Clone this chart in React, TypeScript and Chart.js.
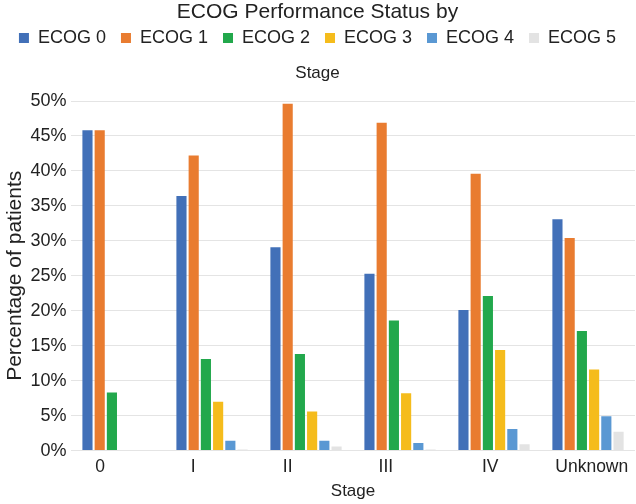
import React, { useEffect, useRef } from "react";
import { Chart, registerables } from "chart.js";

Chart.register(...registerables);

const stages = ["0", "I", "II", "III", "IV", "Unknown"];
const seriesNames = ["ECOG 0", "ECOG 1", "ECOG 2", "ECOG 3", "ECOG 4", "ECOG 5"];
const ecog0 = [45.8, 36.4, 29.1, 25.3, 20.1, 33.1];
const ecog1 = [45.8, 42.2, 49.6, 46.9, 39.6, 30.4];
const ecog2 = [8.3, 13.1, 13.8, 18.6, 22.1, 17.1];
const ecog3 = [0, 7.0, 5.6, 8.2, 14.4, 11.6];
const ecog4 = [0, 1.4, 1.4, 1.1, 3.1, 4.9];
const ecog5 = [0, 0.15, 0.6, 0.15, 0.9, 2.7];
const colors = ["#4270B8", "#E97C30", "#22A84C", "#F5BC1C", "#5A98D3", "#E3E3E3"];
const yTicks = [0, 5, 10, 15, 20, 25, 30, 35, 40, 45, 50];
// label position (in category units) for each stage label
const labelPositions = [-0.19, 0.8, 1.805, 2.85, 3.96, 5.04];

const FONT = "'Liberation Sans', Arial, Helvetica, sans-serif";

export default function App() {
  const ref = useRef<HTMLCanvasElement>(null);
  useEffect(() => {
    document.body.style.margin = "0";
    const series = [ecog0, ecog1, ecog2, ecog3, ecog4, ecog5];
    const chart = new Chart(ref.current!, {
      type: "bar",
      data: {
        labels: stages,
        datasets: series.map((d, i) => ({
          label: seriesNames[i],
          data: d,
          backgroundColor: colors[i],
          borderWidth: 0,
          categoryPercentage: 0.78,
          barPercentage: 0.83,
          xAxisID: "x",
        })),
      },
      options: {
        animation: false,
        responsive: true,
        maintainAspectRatio: false,
        layout: { padding: { left: 0, right: 1, bottom: 0, top: 0 } },
        plugins: {
          tooltip: { enabled: false },
          title: {
            display: true,
            text: "ECOG Performance Status by",
            color: "#222",
            font: { family: FONT, size: 21, weight: "normal" },
            padding: { top: 0, bottom: -11.2 },
          },
          legend: {
            display: true,
            position: "top",
            labels: {
              color: "#222",
              font: { family: FONT, size: 18 },
              boxWidth: 10,
              boxHeight: 10,
              padding: 15,
            },
          },
          subtitle: {
            display: true,
            text: "Stage",
            color: "#222",
            weight: 500,
            font: { family: FONT, size: 17, weight: "normal" },
            padding: { top: 6, bottom: 17.6 },
          } as any,
        },
        scales: {
          x: {
            type: "category",
            display: false,
          },
          xl: {
            type: "linear",
            position: "bottom",
            offset: false,
            min: -0.5,
            max: 5.5,
            grid: { display: false, drawTicks: false },
            border: { display: false },
            afterBuildTicks: (axis: any) => {
              axis.ticks = labelPositions.map((v) => ({ value: v }));
            },
            ticks: {
              color: "#222",
              font: { family: FONT, size: 17.5 },
              padding: 6,
              maxRotation: 0,
              autoSkip: false,
              callback: (_v: any, i: number) => stages[i],
            },
            title: {
              display: true,
              text: "Stage",
              color: "#222",
              font: { family: FONT, size: 17 },
              padding: { top: -2, bottom: 2 },
            },
          },
          y: {
            min: 0,
            max: 50,
            afterBuildTicks: (axis: any) => {
              axis.ticks = yTicks.map((v) => ({ value: v }));
            },
            grid: { color: "#E4E4E4", lineWidth: 1, drawTicks: false },
            border: { display: false },
            ticks: {
              color: "#222",
              font: { family: FONT, size: 18 },
              padding: 4.5,
              callback: (v: any) => v + "%",
            },
            title: {
              display: true,
              text: "Percentage of patients",
              color: "#222",
              font: { family: FONT, size: 21, lineHeight: 1 },
              padding: { top: 5, bottom: 0 },
            },
          },
        },
      },
    });
    return () => chart.destroy();
  }, []);
  return (
    <div style={{ width: 636, height: 504, position: "relative" }}>
      <canvas ref={ref} />
    </div>
  );
}
